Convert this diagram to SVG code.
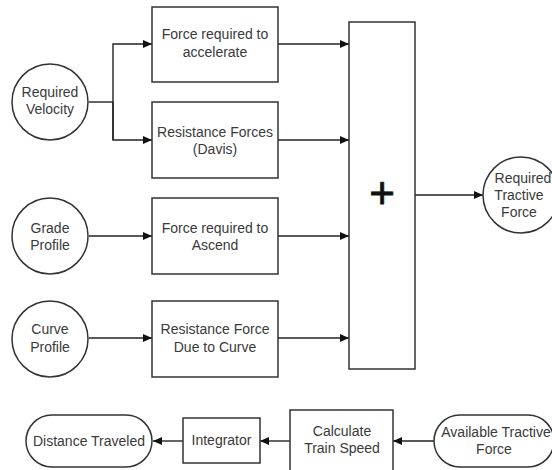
<svg xmlns="http://www.w3.org/2000/svg" width="552" height="470" viewBox="0 0 552 470">
<defs>
<marker id="arr" markerWidth="9" markerHeight="8" refX="9" refY="4" orient="auto" markerUnits="userSpaceOnUse">
<path d="M0,0 L9,4 L0,8 Z" fill="#111"/>
</marker>
</defs>
<style>
.n{fill:#fff;stroke:#333;stroke-width:1.5}
.t{font-family:"Liberation Sans",Arial,sans-serif;font-size:14px;fill:#3a3a3a;text-anchor:middle}
.c{fill:none;stroke:#222;stroke-width:1.4}
</style>
<rect width="552" height="470" fill="#fff"/>
<g id="connectors">
<polyline class="c" points="89,102 113,102"/>
<polyline class="c" points="113,140 113,44 152,44" marker-end="url(#arr)"/>
<polyline class="c" points="113,102 113,140 152,140" marker-end="url(#arr)"/>
<line class="c" x1="89" y1="236" x2="152" y2="236" marker-end="url(#arr)"/>
<line class="c" x1="89" y1="338" x2="152" y2="338" marker-end="url(#arr)"/>
<line class="c" x1="278" y1="44" x2="349" y2="44" marker-end="url(#arr)"/>
<line class="c" x1="278" y1="140" x2="349" y2="140" marker-end="url(#arr)"/>
<line class="c" x1="278" y1="236" x2="349" y2="236" marker-end="url(#arr)"/>
<line class="c" x1="278" y1="338" x2="349" y2="338" marker-end="url(#arr)"/>
<line class="c" x1="415" y1="195" x2="483" y2="195" marker-end="url(#arr)"/>
<line class="c" x1="434" y1="441" x2="393" y2="441" marker-end="url(#arr)"/>
<line class="c" x1="290" y1="441" x2="260" y2="441" marker-end="url(#arr)"/>
<line class="c" x1="183" y1="441" x2="153" y2="441" marker-end="url(#arr)"/>
</g>
<g id="reqVelocity">
<circle class="n" cx="50" cy="102" r="38"/>
<text class="t" x="50" y="97">Required</text>
<text class="t" x="50" y="114">Velocity</text>
</g>
<g id="gradeProfile">
<circle class="n" cx="50" cy="236" r="38"/>
<text class="t" x="50" y="233">Grade</text>
<text class="t" x="50" y="250">Profile</text>
</g>
<g id="curveProfile">
<circle class="n" cx="50" cy="339" r="38"/>
<text class="t" x="50" y="334">Curve</text>
<text class="t" x="50" y="352">Profile</text>
</g>
<g id="forceAccel">
<rect class="n" x="152" y="7" width="126" height="75"/>
<text class="t" x="215" y="39">Force required to</text>
<text class="t" x="215" y="57">accelerate</text>
</g>
<g id="davis">
<rect class="n" x="152" y="102" width="126" height="76"/>
<text class="t" x="215" y="137">Resistance Forces</text>
<text class="t" x="215" y="154">(Davis)</text>
</g>
<g id="forceAscend">
<rect class="n" x="152" y="198" width="126" height="76"/>
<text class="t" x="215" y="233">Force required to</text>
<text class="t" x="215" y="250">Ascend</text>
</g>
<g id="curveRes">
<rect class="n" x="152" y="301" width="126" height="76"/>
<text class="t" x="215" y="334">Resistance Force</text>
<text class="t" x="215" y="352">Due to Curve</text>
</g>
<g id="sum">
<rect class="n" x="349" y="22" width="66" height="347"/>
<text x="382" y="208" style="font-family:'Liberation Sans',Arial,sans-serif;font-size:44px;fill:#111;stroke:#111;stroke-width:0.8;text-anchor:middle">+</text>
</g>
<g id="reqTractive">
<circle class="n" cx="521" cy="195" r="38"/>
<text class="t" x="523" y="183">Required</text>
<text class="t" x="519" y="200">Tractive</text>
<text class="t" x="519" y="217">Force</text>
</g>
<g id="available">
<rect class="n" x="434" y="415" width="120" height="52" rx="26"/>
<text class="t" x="496" y="437">Available Tractive</text>
<text class="t" x="494" y="454">Force</text>
</g>
<g id="calcSpeed">
<rect class="n" x="290" y="410" width="103" height="70"/>
<text class="t" x="342" y="436">Calculate</text>
<text class="t" x="342" y="453">Train Speed</text>
</g>
<g id="integrator">
<rect class="n" x="183" y="418" width="77" height="45"/>
<text class="t" x="221.5" y="445">Integrator</text>
</g>
<g id="distance">
<rect class="n" x="26" y="415" width="126" height="52" rx="26"/>
<text class="t" x="89" y="446">Distance Traveled</text>
</g>
</svg>
